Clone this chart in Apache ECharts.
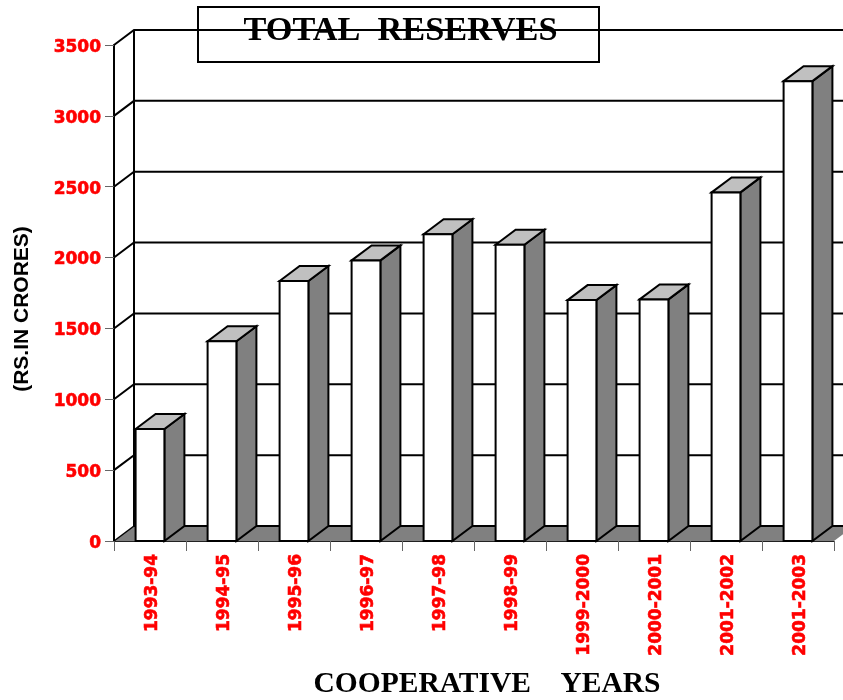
<!DOCTYPE html>
<html>
<head>
<meta charset="utf-8">
<style>html,body{margin:0;padding:0;background:#fff}#c{width:843px;height:700px}</style>
<script src="https://cdn.jsdelivr.net/npm/echarts@6/dist/echarts.min.js"></script>
</head>
<body>
<div id="c"></div>
<script>
var categories = ['1993-94','1994-95','1995-96','1996-97','1997-98','1998-99','1999-2000','2000-2001','2001-2002','2001-2003'];
var reserves = [790, 1410, 1835, 1980, 2165, 2090, 1700, 1705, 2460, 3245];
var yTicks = [500, 1000, 1500, 2000, 2500, 3000, 3500];
var titleText = 'TOTAL  RESERVES';
var xTitle = 'COOPERATIVE    YEARS';
var yTitle = '(RS.IN CRORES)';

var DX = 20, DY = -15;
var chart = echarts.init(document.getElementById('c'), null, {renderer: 'canvas'});

function poly(points, fill, lw) {
  return {type: 'polygon', shape: {points: points}, style: {fill: fill, stroke: '#000', lineWidth: lw, lineJoin: 'miter'}};
}

chart.setOption({
  animation: false,
  backgroundColor: '#fff',
  grid: {left: 114, top: 45, width: 720, height: 496, containLabel: false, outerBoundsMode: 'none'},
  xAxis: {
    type: 'category', data: categories,
    axisLine: {lineStyle: {color: '#222', width: 1}},
    axisTick: {show: true, length: 10, lineStyle: {color: '#666', width: 1}},
    axisLabel: {rotate: 90, margin: 13, interval: 0, color: '#ff0000', fontFamily: 'DejaVu Sans', fontWeight: 'bold', fontSize: 17, textBorderColor: '#ff0000', textBorderWidth: 0.6, verticalAlign: 'top', padding: [-6, 0, 0, 0]},
    splitLine: {show: false},
    name: xTitle, nameLocation: 'middle', nameGap: 128,
    nameTextStyle: {fontFamily: 'Liberation Serif', fontWeight: 'bold', fontSize: 29.5, color: '#000', padding: [0, 0, 0, 26]}
  },
  yAxis: {
    type: 'value', min: 0, max: 3500, interval: 500,
    axisLine: {show: true, lineStyle: {color: '#000', width: 2}},
    axisTick: {show: true, length: 9, lineStyle: {color: '#666', width: 1}},
    axisLabel: {margin: 13, color: '#ff0000', fontFamily: 'DejaVu Sans', fontWeight: 'bold', fontSize: 17, textBorderColor: '#ff0000', textBorderWidth: 0.6, verticalAlign: 'top', padding: [-6, 0, 0, 0], formatter: function (v) { return String(v); }},
    splitLine: {show: false},
    name: yTitle, nameLocation: 'middle', nameGap: 81, nameRotate: 90,
    nameTextStyle: {fontFamily: 'Liberation Sans', fontWeight: 'bold', fontSize: 21, color: '#000', padding: [0, 32, 0, 0]}
  },
  graphic: [{
    type: 'group', z: 100,
    children: [
      {type: 'rect', shape: {x: 198, y: 7, width: 401, height: 55}, style: {fill: '#fff', stroke: '#000', lineWidth: 2}},
      {type: 'text', x: 400.5, y: 31, style: {text: titleText, fill: '#000', font: 'bold 34.3px "Liberation Serif"', align: 'center', verticalAlign: 'middle'}}
    ]
  }],
  series: [
    {
      type: 'custom', coordinateSystem: 'cartesian2d', z: 1, silent: true, clip: false,
      data: [[0, 0]], encode: {x: 0, y: 1},
      renderItem: function (p, api) {
        var c = p.coordSys, o = api.coord([0, 0]), y = o[1], x0 = c.x, x1 = c.x + c.width;
        return {type: 'group', children: [
          poly([[x0, y], [x0 + DX, y + DY], [x1 + DX, y + DY], [x1, y]], '#808080', 0),
          {type: 'line', shape: {x1: x0 + DX, y1: y + DY, x2: x1 + DX, y2: y + DY}, style: {stroke: '#000', lineWidth: 2}},
          {type: 'line', shape: {x1: x0, y1: y, x2: x0 + DX, y2: y + DY}, style: {stroke: '#000', lineWidth: 1.5}},
          {type: 'line', shape: {x1: x0 + DX, y1: y + DY, x2: x0 + DX, y2: c.y + DY}, style: {stroke: '#000', lineWidth: 2}}
        ]};
      }
    },
    {
      type: 'custom', coordinateSystem: 'cartesian2d', z: 2, silent: true, clip: false,
      data: yTicks.map(function (v) { return [0, v]; }), encode: {x: 0, y: 1},
      renderItem: function (p, api) {
        var c = p.coordSys, y = api.coord([0, api.value(1)])[1], x0 = c.x, x1 = c.x + c.width;
        return {type: 'group', children: [
          {type: 'polyline', shape: {points: [[x0, y], [x0 + DX, y + DY], [x1 + DX, y + DY]]}, style: {stroke: '#000', lineWidth: 2, fill: null}}
        ]};
      }
    },
    {
      type: 'custom', coordinateSystem: 'cartesian2d', z: 3, silent: true, clip: false,
      data: reserves.map(function (v, i) { return [i, v]; }), encode: {x: 0, y: 1},
      renderItem: function (p, api) {
        var top = api.coord([api.value(0), api.value(1)]);
        var base = api.coord([api.value(0), 0]);
        var w = api.size([1, 0])[0] * 0.4;
        var l = top[0] - w / 2, r = top[0] + w / 2, t = top[1], b = base[1];
        return {type: 'group', children: [
          poly([[r, t], [r + DX, t + DY], [r + DX, b + DY], [r, b]], '#808080', 2),
          poly([[l, t], [l + DX, t + DY], [r + DX, t + DY], [r, t]], '#c0c0c0', 2),
          poly([[l, t], [r, t], [r, b], [l, b]], '#ffffff', 2)
        ]};
      }
    }
  ]
});
</script>
</body>
</html>
